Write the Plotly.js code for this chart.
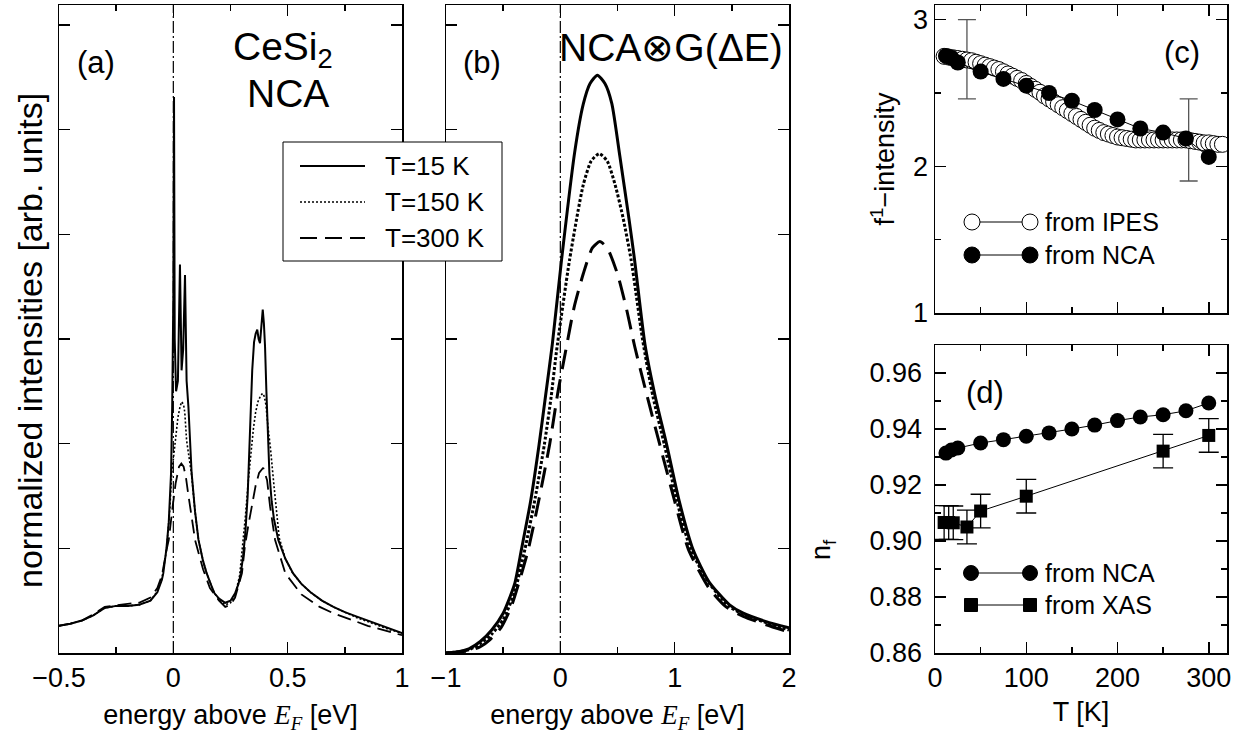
<!DOCTYPE html>
<html>
<head>
<meta charset="utf-8">
<script src="https://cdn.plot.ly/plotly-3.0.1.min.js"></script>
<style>
html,body{margin:0;padding:0;background:#fff;}
#chart{width:1246px;height:734px;}
</style>
</head>
<body>
<div id="chart"></div>
<script>
// ---------------- data: panel (a) NCA spectra ----------------
const aX15 = [-0.5,-0.45,-0.4,-0.35,-0.3,-0.27,-0.25,-0.2,-0.15,-0.1,-0.07,-0.05,-0.044,-0.03,-0.02,-0.01,-0.005,0.0,0.003,0.006,0.012,0.02,0.029,0.036,0.043,0.051,0.058,0.066,0.08,0.095,0.11,0.13,0.146,0.165,0.18,0.2,0.227,0.25,0.27,0.285,0.295,0.305,0.315,0.325,0.335,0.345,0.353,0.36,0.367,0.373,0.379,0.385,0.391,0.396,0.401,0.407,0.413,0.42,0.43,0.44,0.459,0.49,0.524,0.56,0.6,0.65,0.7,0.75,0.8,0.85,0.9,0.95,1.0];
const aY15 = [0.26,0.28,0.31,0.36,0.43,0.44,0.45,0.45,0.46,0.50,0.58,0.70,0.76,1.0,1.25,1.72,2.35,3.4,5.31,3.0,2.5,2.6,3.71,2.7,2.9,3.61,2.6,2.35,1.72,1.35,1.08,0.88,0.76,0.65,0.57,0.52,0.48,0.50,0.57,0.66,0.76,0.92,1.15,1.5,2.13,2.7,2.97,3.05,3.09,3.0,2.96,3.1,3.28,3.15,2.93,2.5,2.13,1.72,1.45,1.28,1.08,0.9,0.76,0.66,0.58,0.5,0.44,0.39,0.35,0.31,0.27,0.23,0.19];

const aX150 = [-0.5,-0.45,-0.4,-0.35,-0.3,-0.27,-0.25,-0.2,-0.15,-0.1,-0.07,-0.05,-0.03,-0.015,-0.007,0.0,0.008,0.02,0.03,0.037,0.045,0.05,0.058,0.068,0.08,0.095,0.11,0.13,0.146,0.165,0.18,0.2,0.227,0.25,0.27,0.29,0.303,0.315,0.328,0.34,0.35,0.36,0.37,0.38,0.39,0.398,0.405,0.414,0.425,0.44,0.463,0.49,0.52,0.56,0.6,0.65,0.7,0.75,0.8,0.85,0.9,0.95,1.0];
const aY150 = [0.26,0.28,0.31,0.36,0.43,0.44,0.45,0.45,0.46,0.50,0.59,0.71,0.98,1.38,1.72,1.85,2.03,2.25,2.36,2.40,2.37,2.30,2.03,1.88,1.70,1.35,1.08,0.88,0.76,0.65,0.57,0.51,0.46,0.48,0.55,0.74,1.0,1.3,1.65,1.95,2.14,2.30,2.40,2.45,2.48,2.45,2.37,2.16,1.95,1.60,1.10,0.90,0.77,0.66,0.58,0.50,0.44,0.39,0.34,0.30,0.26,0.22,0.19];

const aX300 = [-0.5,-0.45,-0.4,-0.35,-0.3,-0.27,-0.25,-0.2,-0.15,-0.1,-0.07,-0.05,-0.03,-0.02,-0.003,0.01,0.025,0.035,0.045,0.055,0.063,0.073,0.095,0.13,0.16,0.2,0.227,0.25,0.27,0.3,0.313,0.328,0.343,0.36,0.375,0.393,0.41,0.423,0.445,0.49,0.56,0.64,0.7,0.75,0.8,0.85,0.9,0.95,1.0];
const aY300 = [0.26,0.28,0.31,0.37,0.44,0.45,0.46,0.47,0.48,0.53,0.62,0.74,0.98,1.08,1.40,1.62,1.78,1.81,1.78,1.68,1.55,1.40,1.08,0.80,0.62,0.50,0.44,0.46,0.53,0.76,1.02,1.22,1.40,1.60,1.72,1.77,1.65,1.40,1.08,0.76,0.56,0.44,0.38,0.34,0.30,0.26,0.23,0.20,0.17];

// ---------------- data: panel (b) NCA convoluted with Gaussian ----------------
const bX15 = [-1.0,-0.9,-0.8,-0.7,-0.6,-0.5,-0.4,-0.34,-0.26,-0.186,-0.13,-0.07,0.01,0.125,0.2,0.26,0.324,0.39,0.45,0.52,0.6,0.65,0.74,0.83,0.93,1.04,1.16,1.3,1.48,1.6,1.8,2.0];
const bY15 = [0.0,0.01,0.04,0.11,0.22,0.38,0.66,0.99,1.45,1.99,2.45,2.95,3.75,4.78,5.24,5.44,5.52,5.44,5.25,4.75,4.15,3.75,2.95,2.45,1.99,1.45,0.99,0.68,0.46,0.38,0.30,0.24];

const bX150 = [-1.0,-0.9,-0.8,-0.7,-0.6,-0.5,-0.4,-0.31,-0.22,-0.14,-0.08,-0.035,0.08,0.2,0.27,0.34,0.41,0.48,0.55,0.62,0.72,0.81,0.91,1.02,1.14,1.3,1.47,1.6,1.8,2.0];
const bY150 = [0.0,0.01,0.03,0.09,0.18,0.32,0.58,0.99,1.48,1.99,2.45,2.87,3.75,4.47,4.70,4.77,4.70,4.47,4.15,3.75,2.99,2.45,1.99,1.45,0.99,0.67,0.45,0.37,0.29,0.22];

const bX300 = [-1.0,-0.9,-0.8,-0.7,-0.62,-0.52,-0.43,-0.36,-0.28,-0.19,-0.094,-0.02,0.044,0.12,0.2,0.28,0.345,0.41,0.5,0.58,0.65,0.76,0.87,1.0,1.12,1.3,1.45,1.6,1.8,2.0];
const bY300 = [0.0,0.01,0.02,0.06,0.124,0.24,0.44,0.68,0.99,1.45,1.99,2.5,2.87,3.3,3.62,3.87,3.93,3.87,3.62,3.28,2.93,2.45,1.99,1.45,0.99,0.62,0.44,0.35,0.27,0.20];

// ---------------- data: panel (c) f1 intensity ----------------
const cT_ipes = [10,15,20,25,30,35,40,45,50,55,60,65,70,75,80,85,90,95,100,105,110,115,120,125,130,135,140,145,150,155,160,165,170,175,180,185,190,195,200,205,210,215,220,225,230,235,240,245,250,255,260,265,270,275,280,285,290,295,300,305,310,315];
const cI_ipes = [2.75,2.745,2.74,2.735,2.73,2.725,2.72,2.71,2.70,2.69,2.68,2.67,2.66,2.645,2.63,2.615,2.60,2.585,2.565,2.545,2.525,2.505,2.48,2.46,2.44,2.42,2.40,2.38,2.36,2.34,2.32,2.30,2.28,2.26,2.245,2.23,2.22,2.21,2.20,2.195,2.19,2.185,2.18,2.18,2.18,2.18,2.18,2.18,2.18,2.18,2.18,2.18,2.18,2.18,2.175,2.17,2.165,2.16,2.16,2.155,2.15,2.15];
const cT_err = [35,278];
const cI_err = [2.73,2.18];
const cE_err = [0.27,0.28];
const T_nca = [12,18,25,50,75,100,125,150,175,200,225,250,275,300];
const cI_nca = [2.753,2.74,2.708,2.646,2.596,2.55,2.50,2.447,2.384,2.32,2.258,2.23,2.19,2.064];

// ---------------- data: panel (d) nf ----------------
const dN_nca = [0.9314,0.9325,0.9332,0.935,0.9362,0.9374,0.9386,0.940,0.9414,0.943,0.9443,0.9451,0.9465,0.9493];
const T_xas = [10,15,20,35,50,100,250,300];
const dN_xas = [0.9066,0.9066,0.9065,0.905,0.9107,0.916,0.9321,0.9377];
const dE_xas = [0.006,0.006,0.006,0.006,0.006,0.006,0.006,0.006];

// ---------------- labels ----------------
const legendA = ['T=15 K','T=150 K','T=300 K'];
const legendC = ['from IPES','from NCA'];
const legendD = ['from NCA','from XAS'];

const FONT = 'Liberation Sans, Arial, Helvetica, sans-serif';
const W = 1246, H = 734;
const PX = p => p / W;
const PY = p => 1 - p / H;

const traces = [
  {x:aX15, y:aY15, xaxis:'x', yaxis:'y', mode:'lines', name:legendA[0], line:{color:'black', width:2}},
  {x:aX150, y:aY150, xaxis:'x', yaxis:'y', mode:'lines', name:legendA[1], line:{color:'black', width:1.6, dash:'2px,2px'}},
  {x:aX300, y:aY300, xaxis:'x', yaxis:'y', mode:'lines', name:legendA[2], line:{color:'black', width:1.8, dash:'14px,7px'}},
  {x:bX15, y:bY15, xaxis:'x2', yaxis:'y2', mode:'lines', line:{color:'black', width:3, shape:'spline', smoothing:0.6}},
  {x:bX150, y:bY150, xaxis:'x2', yaxis:'y2', mode:'lines', line:{color:'black', width:3, dash:'3px,2px', shape:'spline', smoothing:0.6}},
  {x:bX300, y:bY300, xaxis:'x2', yaxis:'y2', mode:'lines', line:{color:'black', width:3, dash:'20px,10px', shape:'spline', smoothing:0.6}},
  {x:cT_err, y:cI_err, xaxis:'x3', yaxis:'y3', mode:'markers', marker:{size:1, color:'rgba(0,0,0,0)'},
   error_y:{type:'data', array:cE_err, visible:true, color:'#555', thickness:1.3, width:9}},
  {x:cT_ipes, y:cI_ipes, xaxis:'x3', yaxis:'y3', mode:'lines+markers', name:legendC[0],
   line:{color:'black', width:1}, marker:{symbol:'circle', size:16, color:'white', line:{color:'black', width:1}}},
  {x:T_nca, y:cI_nca, xaxis:'x3', yaxis:'y3', mode:'lines+markers', name:legendC[1],
   line:{color:'black', width:1}, marker:{symbol:'circle', size:16, color:'black'}},
  {x:T_nca, y:dN_nca, xaxis:'x4', yaxis:'y4', mode:'lines+markers', name:legendD[0],
   line:{color:'black', width:1}, marker:{symbol:'circle', size:15, color:'black'}},
  {x:T_xas, y:dN_xas, xaxis:'x4', yaxis:'y4', mode:'lines+markers', name:legendD[1],
   line:{color:'black', width:1}, marker:{symbol:'square', size:13, color:'black'},
   error_y:{type:'data', array:dE_xas, visible:true, color:'black', thickness:1.3, width:10}}
];

function ax(extra){
  return Object.assign({
    showline:true, linecolor:'black', linewidth:1.5, mirror:'ticks',
    ticks:'inside', ticklen:11, tickwidth:1.5, tickcolor:'black',
    showgrid:false, zeroline:false, fixedrange:true,
    tickfont:{family:FONT, size:27, color:'black'}
  }, extra);
}
function minor(d){ return {dtick:d, ticks:'inside', ticklen:6, tickwidth:1.5, tickcolor:'black', showgrid:false}; }

const xTitleA = 'energy above <span style="font-family:Liberation Serif;font-style:italic">E<sub>F</sub></span> [eV]';
const titleFont = {family:FONT, size:27, color:'black'};

const layout = {
  width:W, height:H, showlegend:false,
  paper_bgcolor:'white', plot_bgcolor:'white',
  margin:{l:0, r:0, t:0, b:0},
  font:{family:FONT, color:'black'},
  xaxis: ax({domain:[PX(59),PX(402)], anchor:'y', range:[-0.5,1.0], tick0:0, dtick:0.5, minor:minor(0.25),
    title:{text:xTitleA, font:titleFont, standoff:13}}),
  yaxis: ax({domain:[PY(653),PY(5)], anchor:'x', range:[0,6.19], tick0:0, dtick:1, showticklabels:false}),
  xaxis2: ax({domain:[PX(446),PX(789)], anchor:'y2', range:[-1,2], tick0:0, dtick:1, minor:minor(0.5),
    title:{text:xTitleA, font:titleFont, standoff:13}}),
  yaxis2: ax({domain:[PY(653),PY(5)], anchor:'x2', range:[0,6.19], tick0:0, dtick:1, showticklabels:false}),
  xaxis3: ax({domain:[PX(935),PX(1227)], anchor:'y3', range:[0,320], tick0:0, dtick:100, minor:minor(50), showticklabels:false}),
  yaxis3: ax({domain:[PY(313),PY(5)], anchor:'x3', range:[1,3.1], tick0:0, dtick:1, minor:minor(0.5),
    title:{text:'f<sup>1</sup>\u2212intensity', font:titleFont, standoff:10}}),
  xaxis4: ax({domain:[PX(935),PX(1227)], anchor:'y4', range:[0,320], tick0:0, dtick:100, minor:minor(50),
    title:{text:'T [K]', font:titleFont, standoff:10}}),
  yaxis4: ax({domain:[PY(653),PY(345)], anchor:'x4', range:[0.86,0.97], tick0:0.86, dtick:0.02, tickformat:'.2f', minor:minor(0.01), ticklabelstandoff:6}),
  shapes:[
    {type:'line', xref:'x', yref:'y domain', x0:0, x1:0, y0:0, y1:1, line:{color:'black', width:1.2, dash:'12px,3px,2px,3px'}},
    {type:'line', xref:'x2', yref:'y2 domain', x0:0, x1:0, y0:0, y1:1, line:{color:'black', width:1.2, dash:'12px,3px,2px,3px'}},
    // legend (a)
    {type:'rect', xref:'paper', yref:'paper', x0:PX(283), x1:PX(502), y0:PY(261), y1:PY(142), fillcolor:'white', line:{color:'black', width:1}},
    {type:'line', xref:'paper', yref:'paper', x0:PX(300), x1:PX(365), y0:PY(166), y1:PY(166), line:{color:'black', width:2}},
    {type:'line', xref:'paper', yref:'paper', x0:PX(300), x1:PX(365), y0:PY(202), y1:PY(202), line:{color:'black', width:1.6, dash:'2px,2px'}},
    {type:'line', xref:'paper', yref:'paper', x0:PX(300), x1:PX(365), y0:PY(238), y1:PY(238), line:{color:'black', width:1.8, dash:'17px,8px'}},
    // legend (c)
    {type:'line', xref:'paper', yref:'paper', x0:PX(972), x1:PX(1030), y0:PY(222), y1:PY(222), line:{color:'black', width:1}},
    {type:'line', xref:'paper', yref:'paper', x0:PX(972), x1:PX(1030), y0:PY(255), y1:PY(255), line:{color:'black', width:1}},
    {type:'circle', xref:'paper', yref:'paper', xsizemode:'pixel', ysizemode:'pixel', xanchor:PX(972), yanchor:PY(222), x0:-8, x1:8, y0:-8, y1:8, fillcolor:'white', line:{color:'black', width:1}},
    {type:'circle', xref:'paper', yref:'paper', xsizemode:'pixel', ysizemode:'pixel', xanchor:PX(1030), yanchor:PY(222), x0:-8, x1:8, y0:-8, y1:8, fillcolor:'white', line:{color:'black', width:1}},
    {type:'circle', xref:'paper', yref:'paper', xsizemode:'pixel', ysizemode:'pixel', xanchor:PX(972), yanchor:PY(255), x0:-8, x1:8, y0:-8, y1:8, fillcolor:'black', line:{color:'black', width:1}},
    {type:'circle', xref:'paper', yref:'paper', xsizemode:'pixel', ysizemode:'pixel', xanchor:PX(1030), yanchor:PY(255), x0:-8, x1:8, y0:-8, y1:8, fillcolor:'black', line:{color:'black', width:1}},
    // legend (d)
    {type:'line', xref:'paper', yref:'paper', x0:PX(971), x1:PX(1030), y0:PY(573), y1:PY(573), line:{color:'black', width:1}},
    {type:'line', xref:'paper', yref:'paper', x0:PX(971), x1:PX(1030), y0:PY(605), y1:PY(605), line:{color:'black', width:1}},
    {type:'circle', xref:'paper', yref:'paper', xsizemode:'pixel', ysizemode:'pixel', xanchor:PX(971), yanchor:PY(573), x0:-7.5, x1:7.5, y0:-7.5, y1:7.5, fillcolor:'black', line:{color:'black', width:1}},
    {type:'circle', xref:'paper', yref:'paper', xsizemode:'pixel', ysizemode:'pixel', xanchor:PX(1030), yanchor:PY(573), x0:-7.5, x1:7.5, y0:-7.5, y1:7.5, fillcolor:'black', line:{color:'black', width:1}},
    {type:'rect', xref:'paper', yref:'paper', xsizemode:'pixel', ysizemode:'pixel', xanchor:PX(971), yanchor:PY(605), x0:-6.5, x1:6.5, y0:-6.5, y1:6.5, fillcolor:'black', line:{color:'black', width:1}},
    {type:'rect', xref:'paper', yref:'paper', xsizemode:'pixel', ysizemode:'pixel', xanchor:PX(1030), yanchor:PY(605), x0:-6.5, x1:6.5, y0:-6.5, y1:6.5, fillcolor:'black', line:{color:'black', width:1}}
  ],
  annotations:[
    {text:'normalized intensities [arb. units]', xref:'paper', yref:'paper', x:PX(30), y:PY(341), xanchor:'center', yanchor:'middle', textangle:-90, showarrow:false, font:{family:FONT, size:34}},
    {text:'(a)', xref:'paper', yref:'paper', x:PX(96), y:PY(63), xanchor:'center', yanchor:'middle', showarrow:false, font:{family:FONT, size:31}},
    {text:'CeSi<sub>2</sub>', xref:'paper', yref:'paper', x:PX(283), y:PY(50), xanchor:'center', yanchor:'bottom', showarrow:false, font:{family:FONT, size:39}, yshift:-26},
    {text:'NCA', xref:'paper', yref:'paper', x:PX(288), y:PY(93), xanchor:'center', yanchor:'middle', showarrow:false, font:{family:FONT, size:39}},
    {text:'(b)', xref:'paper', yref:'paper', x:PX(482), y:PY(63), xanchor:'center', yanchor:'middle', showarrow:false, font:{family:FONT, size:31}},
    {text:'NCA\u2297G(\u0394E)', xref:'paper', yref:'paper', x:PX(671), y:PY(47), xanchor:'center', yanchor:'middle', showarrow:false, font:{family:FONT, size:39}},
    {text:'(c)', xref:'paper', yref:'paper', x:PX(1182), y:PY(52), xanchor:'center', yanchor:'middle', showarrow:false, font:{family:FONT, size:31}},
    {text:'(d)', xref:'paper', yref:'paper', x:PX(985), y:PY(392), xanchor:'center', yanchor:'middle', showarrow:false, font:{family:FONT, size:31}},
    {text:'n<sub>f</sub>', xref:'paper', yref:'paper', x:PX(823), y:PY(550), xanchor:'center', yanchor:'middle', textangle:-90, showarrow:false, font:{family:FONT, size:27}},
    {text:legendA[0], xref:'paper', yref:'paper', x:PX(383), y:PY(166), xanchor:'left', yanchor:'middle', showarrow:false, font:{family:FONT, size:26}},
    {text:legendA[1], xref:'paper', yref:'paper', x:PX(383), y:PY(202), xanchor:'left', yanchor:'middle', showarrow:false, font:{family:FONT, size:26}},
    {text:legendA[2], xref:'paper', yref:'paper', x:PX(383), y:PY(238), xanchor:'left', yanchor:'middle', showarrow:false, font:{family:FONT, size:26}},
    {text:legendC[0], xref:'paper', yref:'paper', x:PX(1043), y:PY(222), xanchor:'left', yanchor:'middle', showarrow:false, font:{family:FONT, size:25}},
    {text:legendC[1], xref:'paper', yref:'paper', x:PX(1043), y:PY(255), xanchor:'left', yanchor:'middle', showarrow:false, font:{family:FONT, size:25}},
    {text:legendD[0], xref:'paper', yref:'paper', x:PX(1043), y:PY(573), xanchor:'left', yanchor:'middle', showarrow:false, font:{family:FONT, size:25}},
    {text:legendD[1], xref:'paper', yref:'paper', x:PX(1043), y:PY(605), xanchor:'left', yanchor:'middle', showarrow:false, font:{family:FONT, size:25}}
  ]
};

Plotly.newPlot('chart', traces, layout, {staticPlot:true, displayModeBar:false});
</script>
</body>
</html>
